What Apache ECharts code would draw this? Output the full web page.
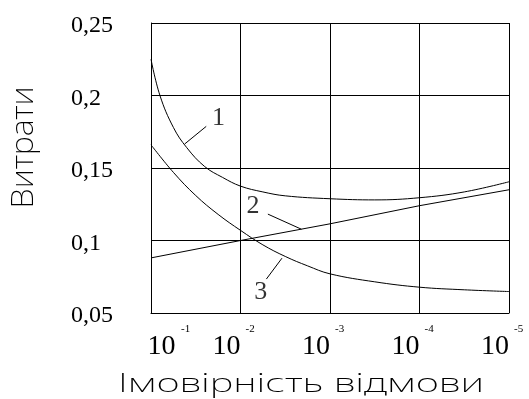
<!DOCTYPE html>
<html>
<head>
<meta charset="utf-8">
<script src="https://cdn.jsdelivr.net/npm/echarts@6/dist/echarts.min.js"></script>
<style>html,body{margin:0;padding:0;background:#fff;}#c{width:529px;height:399px;}</style>
</head>
<body>
<div id="c"></div>
<script>
// ---- data (x = exponent k of failure probability 10^-k) ----
const xTickExp = [1, 2, 3, 4, 5];
const yTicks = [0.05, 0.1, 0.15, 0.2, 0.25];

const curve1Exp = [1, 1.1, 1.25, 1.4, 1.6, 1.8, 2, 2.25, 2.5, 3, 3.5, 4, 4.5, 5];
const curve1Val = [0.225, 0.2, 0.178, 0.164, 0.151, 0.1435, 0.1375, 0.1335, 0.1308, 0.1288, 0.128, 0.1295, 0.1335, 0.1405];

const curve2Exp = [1, 2, 3, 4, 5];
const curve2Val = [0.088, 0.1, 0.1115, 0.124, 0.135];

const curve3Exp = [1, 1.25, 1.5, 1.75, 2, 2.25, 2.5, 2.75, 3, 3.5, 4, 4.5, 5];
const curve3Val = [0.166, 0.147, 0.131, 0.118, 0.107, 0.097, 0.089, 0.0825, 0.077, 0.0715, 0.0678, 0.066, 0.0648];

const labelTexts = ['1', '2', '3'];
const labelExp = [1.755, 2.139, 2.225];
const labelVal = [0.1843, 0.1235, 0.0642];
const leaderStartExp = [1.617, 2.306, 2.289];
const leaderStartVal = [0.1787, 0.1182, 0.0734];
const leaderEndExp = [1.375, 2.68, 2.463];
const leaderEndVal = [0.1665, 0.1078, 0.0878];

const yTitle = 'Витрати';
const xTitle = 'Імовірність відмови';

// ---- helpers ----
const toP = e => Math.pow(10, -e);
const pts = (ex, vals) => ex.map((e, i) => [toP(e), vals[i]]);
const expOf = v => Math.round(-Math.log10(v));

const serif = '"Liberation Serif", "Times New Roman", serif';
const sans = '"Noto Sans", Lato, Roboto, "DejaVu Sans", sans-serif';

const mctx = document.createElement('canvas').getContext('2d');
function measure(text, weight, size, family) {
  mctx.font = weight + ' ' + size + 'px ' + family;
  return mctx.measureText(text).width;
}
const xTitleSize = 25, yTitleSize = 31, titleWeight = 200;
const xTitleScale = 366 / measure(xTitle, titleWeight, xTitleSize, sans);
const yTitleScale = 122 / measure(yTitle, titleWeight, yTitleSize, sans);

const chart = echarts.init(document.getElementById('c'), null, {renderer: 'canvas'});

const baseLine = {color: '#000', width: 1};
const series = [
  {type: 'line', data: pts(curve1Exp, curve1Val), smooth: 0.4, symbol: 'none', lineStyle: baseLine, silent: true},
  {type: 'line', data: pts(curve2Exp, curve2Val), smooth: false, symbol: 'none', lineStyle: baseLine, silent: true},
  {type: 'line', data: pts(curve3Exp, curve3Val), smooth: 0.4, symbol: 'none', lineStyle: baseLine, silent: true}
];
labelTexts.forEach((t, i) => {
  series.push({
    type: 'line', symbol: 'none', lineStyle: baseLine, silent: true,
    data: [[toP(leaderStartExp[i]), leaderStartVal[i]], [toP(leaderEndExp[i]), leaderEndVal[i]]]
  });
});
series.push({
  type: 'scatter', symbolSize: 1, itemStyle: {color: 'rgba(0,0,0,0)'}, silent: true,
  data: labelTexts.map((t, i) => [toP(labelExp[i]), labelVal[i], t]),
  label: {show: true, position: 'inside', color: '#000', fontFamily: serif, fontSize: 26,
          formatter: p => p.data[2]}
});

chart.setOption({
  animation: false,
  grid: {left: 151, right: 20, top: 23, bottom: 86, containLabel: false},
  xAxis: [
    {
      type: 'log', logBase: 10, inverse: true, min: toP(xTickExp[xTickExp.length - 1]), max: toP(xTickExp[0]),
      position: 'bottom',
      axisLine: {show: true, lineStyle: baseLine},
      axisTick: {show: false},
      splitLine: {show: true, lineStyle: baseLine},
      axisLabel: {
        show: true, margin: 20, align: 'center', showMinLabel: true, showMaxLabel: true, hideOverlap: false,
        formatter: v => (expOf(v) === xTickExp[0] ? '{f|10}' : '{n|10}'),
        rich: {
          n: {fontFamily: serif, fontSize: 28, color: '#000', padding: [0, 28, 0, 0]},
          f: {fontFamily: serif, fontSize: 28, color: '#000', padding: [0, 0, 0, 21]}
        }
      }
    },
    {
      type: 'log', logBase: 10, inverse: true, min: toP(xTickExp[xTickExp.length - 1]), max: toP(xTickExp[0]),
      position: 'bottom', offset: 0,
      axisLine: {show: false}, axisTick: {show: false}, splitLine: {show: false},
      axisLabel: {
        show: true, margin: 11, align: 'left', showMinLabel: true, showMaxLabel: true, hideOverlap: false,
        formatter: v => (expOf(v) === xTickExp[0] ? '{f|-' + expOf(v) + '}' : '{n|-' + expOf(v) + '}'),
        rich: {
          n: {fontFamily: serif, fontSize: 11, color: '#000', padding: [0, 0, 0, 5]},
          f: {fontFamily: serif, fontSize: 11, color: '#000', padding: [0, 0, 0, 30]}
        }
      }
    }
  ],
  yAxis: {
    type: 'value', min: yTicks[0], max: yTicks[yTicks.length - 1], interval: 0.05,
    axisLine: {show: true, lineStyle: baseLine},
    axisTick: {show: false},
    splitLine: {show: true, lineStyle: baseLine},
    axisLabel: {
      margin: 80, align: 'left', verticalAlign: 'top', lineHeight: 6,
      fontFamily: serif, fontSize: 24, color: '#000',
      formatter: v => String(+v.toFixed(2)).replace('.', ',')
    }
  },
  graphic: [
    {type: 'text', x: 301, y: 385, scaleX: xTitleScale, silent: true,
     style: {text: xTitle, fontFamily: sans, fontWeight: titleWeight, fontSize: xTitleSize, fill: '#000',
             align: 'center', verticalAlign: 'middle', textAlign: 'center', textVerticalAlign: 'middle'}},
    {type: 'text', x: 24.6, y: 147.5, rotation: Math.PI / 2, scaleX: yTitleScale, silent: true,
     style: {text: yTitle, fontFamily: sans, fontWeight: titleWeight, fontSize: yTitleSize, fill: '#000',
             align: 'center', verticalAlign: 'middle', textAlign: 'center', textVerticalAlign: 'middle'}}
  ],
  series: series
});
</script>
</body>
</html>
